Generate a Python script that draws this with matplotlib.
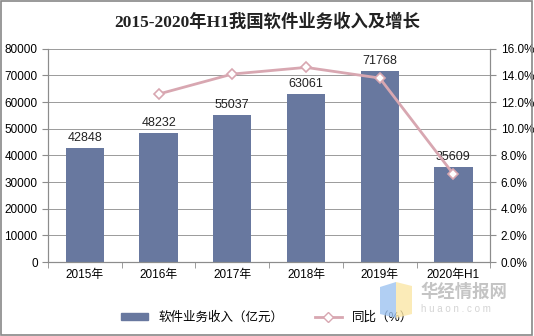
import matplotlib.pyplot as plt
import matplotlib.patches as mpatches
import numpy as np

plt.rcParams['font.family'] = ['Liberation Sans', 'Noto Sans CJK SC', 'DejaVu Sans']

# ── Data ────────────────────────────────────────────────────────────────────
years = ['2015年', '2016年', '2017年', '2018年', '2019年', '2020年H1']
revenue = [42848, 48232, 55037, 63061, 71768, 35609]
growth_years = [1, 2, 3, 4, 5]
growth = [12.6, 14.1, 14.6, 13.8, 6.6]

BAR_COLOR = '#68789f'
LINE_COLOR = '#d8a7b1'
AXIS_COLOR = '#8c8c8c'
GRID_COLOR = '#9a9a9a'

W, H = 534, 336
fig = plt.figure(figsize=(W / 100, H / 100), dpi=100)
ax = fig.add_axes([0.09, 0.22, 0.828, 0.635])
x = np.arange(len(years))

bars = ax.bar(x, revenue, width=0.52, color=BAR_COLOR, zorder=2)
for rect, v in zip(bars, revenue):
    ax.annotate(str(v), xy=(rect.get_x() + rect.get_width() / 2, v),
                xytext=(0, 3), textcoords='offset points',
                ha='center', va='bottom', fontsize=9, color='#222222', zorder=5)

ax.set_xlim(-0.5, len(years) - 0.5)
ax.set_ylim(0, 80000)
ax.set_yticks(np.arange(0, 80001, 10000))
ax.set_xticks(x)
ax.set_xticklabels(years, fontsize=8.5)
ax.set_xticks(np.arange(-0.5, len(years), 1), minor=True)
ax.tick_params(axis='x', which='major', length=0, pad=5)
ax.tick_params(axis='x', which='minor', length=4, color=AXIS_COLOR)
ax.tick_params(axis='y', labelsize=8.5, length=4, color=AXIS_COLOR)
ax.grid(axis='y', color=GRID_COLOR, linewidth=0.7, zorder=0)
ax.set_axisbelow(True)
ax.spines['top'].set_visible(False)
for side in ['left', 'bottom', 'right']:
    ax.spines[side].set_color(AXIS_COLOR)

# ── Growth line on secondary axis ───────────────────────────────────────────
ax2 = ax.twinx()
ax2.plot(growth_years, growth, color=LINE_COLOR, linewidth=2,
         marker='D', markersize=5, markerfacecolor='white',
         markeredgecolor=LINE_COLOR, markeredgewidth=1.2, zorder=4)
ax2.set_ylim(0, 16)
ax2.set_yticks(np.arange(0, 16.1, 2))
ax2.set_yticklabels([f'{v:.1f}%' for v in np.arange(0, 16.1, 2)])
ax2.tick_params(axis='y', labelsize=8.5, length=4, color=AXIS_COLOR)
ax2.spines['top'].set_visible(False)
for side in ['left', 'bottom', 'right']:
    ax2.spines[side].set_color(AXIS_COLOR)

# ── Title ───────────────────────────────────────────────────────────────────
fig.text(0.5, 0.935, '2015-2020年H1我国软件业务收入及增长', ha='center', va='center',
         fontsize=12.5, fontweight='bold', color='#222222',
         family=['Liberation Serif', 'Noto Sans CJK SC'])

# ── Legend ──────────────────────────────────────────────────────────────────
handles = [
    mpatches.Patch(color=BAR_COLOR, label='软件业务收入（亿元）'),
    plt.Line2D([], [], color=LINE_COLOR, linewidth=2, marker='D', markersize=5,
               markerfacecolor='white', markeredgecolor=LINE_COLOR, label='同比（%）'),
]
fig.legend(handles=handles, loc='center', bbox_to_anchor=(0.5, 0.055), ncol=2,
           frameon=False, fontsize=9, handlelength=2.2, columnspacing=2.5,
           handleheight=0.5)


# ── Watermark (logo + site name) ────────────────────────────────────────────
def _px(px, py):
    return (px / W, 1 - py / H)


fig.add_artist(mpatches.Polygon([_px(380, 287), _px(396, 282), _px(396, 318), _px(380, 314)],
                                closed=True, transform=fig.transFigure,
                                facecolor='#9ec3f0', edgecolor='none', alpha=0.8, zorder=6))
fig.add_artist(mpatches.Polygon([_px(396, 282), _px(412, 286), _px(412, 314), _px(396, 318)],
                                closed=True, transform=fig.transFigure,
                                facecolor='#fbe6a6', edgecolor='none', alpha=0.8, zorder=6))
fig.text(420 / W, 1 - 291 / H, '华经情报网', ha='left', va='center', fontsize=12.5,
         color='#c4c4c4', fontweight='bold', zorder=7)
fig.text(421 / W, 1 - 309 / H, 'h u a o n . c o m', ha='left', va='center', fontsize=7,
         color='#d4d4d4', zorder=7)

# Outer frame
fig.add_artist(mpatches.Rectangle((0.002, 0.003), 0.995, 0.994, transform=fig.transFigure,
                                  fill=False, edgecolor='#888888', linewidth=1.2))

fig.savefig('out.png', dpi=100)
